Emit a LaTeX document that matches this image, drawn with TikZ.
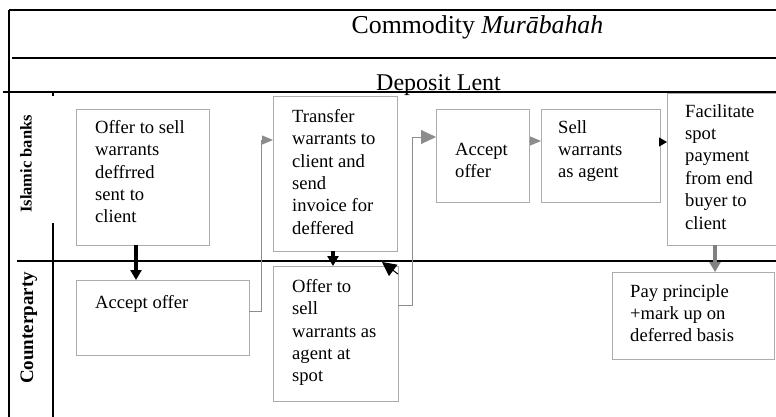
\documentclass[tikz,border=0pt]{standalone}
\usepackage{fontspec}
\setmainfont{Liberation Serif}
\usetikzlibrary{arrows.meta,calc}
\begin{document}
\begin{tikzpicture}[x=1pt,y=-1pt,
  frame/.style={black, line width=1.1pt},
  bx/.style={draw=gray!65, line width=1pt, anchor=north west, inner sep=0pt, outer sep=0pt},
  txt/.style={anchor=north west, inner sep=0pt, align=left, font=\fontsize{18.6}{22.4}\selectfont, execute at begin node=\strut},
  blkarrow/.style={draw=black, line width=3.2pt, -{Triangle[length=10pt,width=11pt]}},
  gryarrow/.style={draw=gray, fill=gray, line width=4pt, -{Triangle[length=10pt,width=11pt]}},
  thinarrow/.style={draw=gray!90, line width=1pt, -{Triangle[length=11pt,width=9pt]}},
  lane/.style={font=\fontsize{#1}{#1}\selectfont\bfseries, rotate=90, inner sep=0pt}
]
\useasboundingbox (0,0) rectangle (776,416);

% frame
\draw[frame] (9,10) -- (780,10);
\draw[frame] (9,10) -- (9,420);
\draw[frame] (12,58) -- (780,58);
\draw[frame] (3,92) -- (780,92);
\draw[frame] (53,92) -- (53,96);
\draw[frame] (53,223) -- (53,420);
\draw[frame] (17,261) -- (780,261);

% headings
\node[anchor=base, inner sep=0pt, font=\fontsize{25.8}{30}\selectfont] (title) at (477.5,33) {Commodity \textit{Murābahah}};
\node[anchor=base, inner sep=0pt, font=\fontsize{24}{29}\selectfont] (dep) at (438.5,90) {Deposit Lent};
\node[lane=16.5] (lb) at (26,164) {Islamic banks};
\node[lane=19] (lc) at (29,328) {Counterparty};

% boxes
\node[bx, minimum width=133pt, minimum height=136pt] (b1) at (76,109) {};
\node[txt] (t1) at ($(b1.north west)+(19,11)$) {Offer to sell\\warrants\\deffrred\\sent to\\client};

\node[bx, minimum width=124pt, minimum height=155pt] (b2) at (273,96) {};
\node[txt] (t2) at ($(b2.north west)+(19,13)$) {Transfer\\warrants to\\client and\\send\\invoice for\\deffered};

\node[bx, minimum width=93pt, minimum height=93pt] (b3) at (436,109) {};
\node[txt] (t3) at ($(b3.north west)+(19,34)$) {Accept\\offer};

\node[bx, minimum width=119pt, minimum height=93pt] (b4) at (541,109) {};
\node[txt] (t4) at ($(b4.north west)+(17,11)$) {Sell\\warrants\\as agent};

\node[bx, minimum width=125pt, minimum height=152pt] (b5) at (667,93) {};
\node[txt] (t5) at ($(b5.north west)+(18,11)$) {Facilitate\\spot\\payment\\from end\\buyer to\\client};

\node[bx, minimum width=173pt, minimum height=75pt] (b6) at (76,280) {};
\node[txt] (t6) at ($(b6.north west)+(19,13)$) {Accept offer};

\node[bx, minimum width=125pt, minimum height=135pt] (b7) at (273,266) {};
\node[txt] (t7) at ($(b7.north west)+(19,13)$) {Offer to\\sell\\warrants as\\agent at\\spot};

\node[bx, minimum width=162pt, minimum height=87pt] (b8) at (612,272) {};
\node[txt] (t8) at ($(b8.north west)+(18,12)$) {Pay principle\\+mark up on\\deferred basis};

% connectors
\draw[blkarrow] ([xshift=60pt]b1.south west) -- ([xshift=60pt]b1.south west |- b6.north);
\draw[thinarrow] ([yshift=6.5pt]b6.east) -- ++(12,0) |- ([yshift=33.5pt]b2.west);
\draw[blkarrow] ([xshift=60pt]b2.south west) -- ([xshift=60pt]b2.south west |- b7.north);
\draw[draw=gray!90, line width=1pt, -{Triangle[length=15pt,width=14pt]}] ([yshift=28.5pt]b7.east) -- ++(14,0) |- ([yshift=18.5pt]b3.west);
\draw[black, line width=1pt, -{Triangle[length=14pt,width=14pt]}] ([shift={(0pt,-8pt)}]b7.north east) -- ([shift={(-16pt,4pt)}]b7.north east);
\draw[thinarrow] ([yshift=14.5pt]b3.east) -- ([yshift=14.5pt]b4.west);
\draw[black, line width=1pt, -{Triangle[length=8pt,width=9pt]}] ([yshift=13.5pt]b4.east) -- ([yshift=13.5pt]b4.east -| b5.west);
\draw[gryarrow] ([xshift=48pt]b5.south west) -- ([xshift=48pt]b5.south west |- b8.north);
\end{tikzpicture}
\end{document}
